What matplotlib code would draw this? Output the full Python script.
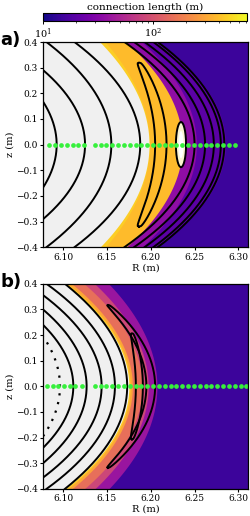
import numpy as np
import matplotlib
matplotlib.use("Agg")
import matplotlib.pyplot as plt
from matplotlib.colors import LogNorm
from matplotlib.cm import ScalarMappable

plt.rcParams['font.family'] = ['DejaVu Serif']
plt.rcParams['mathtext.fontset'] = 'dejavuserif'
plt.rcParams['axes.unicode_minus'] = True

# ---------------- data ----------------
XLIM = (6.077, 6.311)
YLIM = (-0.4, 0.4)
x_ticks = [6.10, 6.15, 6.20, 6.25, 6.30]
y_ticks = [-0.4, -0.3, -0.2, -0.1, 0.0, 0.1, 0.2, 0.3, 0.4]
L_min, L_max = 10, 716
core_color = '#f0f0f0'

# panel a: region boundaries (R at z=0, R at z=+-0.4) and connection length outside each
a_bnd_R0 = [6.198, 6.1985, 6.236, 6.252, 6.286]
a_bnd_Rt = [6.142, 6.148, 6.172, 6.190, 6.209]
a_bnd_L = [None, 470, 380, 36, 20]
a_bg_L = 14.5
# panel a: flux surfaces (R at z=0, R at z=+-0.4)
a_surf_R0 = [6.0926, 6.125, 6.155, 6.188, 6.250, 6.262, 6.272, 6.280, 6.284]
a_surf_Rt = [6.0002, 6.0319, 6.081, 6.113, 6.170, 6.181, 6.193, 6.203, 6.208]
# panel a: crescent island (tip R, tip z, inner R at z=0, outer R at z=0)
a_cres = [(6.1866, 0.320, 6.205, 6.218)]
# panel a: small island (centre R, half width, half height)
a_isl = (6.2345, 0.0058, 0.088)
# panel a: green launch points along z=0
a_dots = [6.084, 6.091, 6.097, 6.104, 6.111, 6.117, 6.124,
          6.136, 6.143, 6.149, 6.156, 6.163, 6.169, 6.176, 6.183, 6.189,
          6.196, 6.203, 6.209, 6.216, 6.223, 6.229, 6.236, 6.243, 6.249,
          6.256, 6.263, 6.269, 6.276, 6.283, 6.289, 6.296]

# panel b
b_bnd_R0 = [6.175, 6.1765, 6.179, 6.190, 6.197, 6.207]
b_bnd_Rt = [6.102, 6.105, 6.110, 6.124, 6.136, 6.152]
b_bnd_L = [None, 470, 300, 150, 85, 40]
b_bg_L = 14.5
b_surf_R0 = [6.1116, 6.1268, 6.1439, 6.1591, 6.1731]
b_surf_Rt = [6.0116, 6.0362, 6.0586, 6.081, 6.102]
b_dot_R0, b_dot_Rt = 6.0964, 6.012
b_cres = [(6.151, 0.318, 6.195, 6.205), (6.1785, 0.207, 6.183, 6.191)]
b_dots = [6.081, 6.088, 6.094, 6.101, 6.108, 6.114, 6.121,
          6.136, 6.143, 6.149, 6.156, 6.163, 6.169, 6.176, 6.183, 6.189,
          6.196, 6.203, 6.209, 6.216, 6.223, 6.229, 6.236, 6.243, 6.249,
          6.256, 6.263, 6.269, 6.276, 6.283, 6.289, 6.296, 6.303, 6.309]

# ---------------- helpers ----------------
norm = LogNorm(L_min, L_max)
cmap = plt.get_cmap('plasma')
z = np.linspace(-0.4, 0.4, 401)


def arc(R0, Rt, zz, zref=0.4):
    dR = R0 - Rt
    d = (dR ** 2 + zref ** 2) / (2 * dR)
    return R0 - d + np.sqrt(np.clip(d ** 2 - zz ** 2, 0, None))


def crescent(ax, Rtip, zt, Rin, Rout, **kw):
    zz = np.linspace(-zt, zt, 301)
    Rm = 0.5 * (Rin + Rout)
    c = arc(Rm, Rtip, zz, zref=zt)
    w = 0.5 * (Rout - Rin) * np.clip(1 - (zz / zt) ** 2, 0, None) ** 0.3
    xs = np.concatenate([c - w, (c + w)[::-1], [c[0] - w[0]]])
    ys = np.concatenate([zz, zz[::-1], [zz[0]]])
    ax.plot(xs, ys, **kw)


def panel(ax, bR0, bRt, bL, bgL, sR0, sRt):
    ax.set_facecolor(cmap(norm(bgL)))
    for i in range(len(bR0) - 1, -1, -1):
        col = core_color if bL[i] is None else cmap(norm(bL[i]))
        ax.fill_betweenx(z, 6.0, arc(bR0[i], bRt[i], z), color=col, lw=0)
    for r0, rt in zip(sR0, sRt):
        ax.plot(arc(r0, rt, z), z, color='k', lw=1.4)


def style(ax):
    ax.set_xlim(*XLIM)
    ax.set_ylim(*YLIM)
    ax.set_xticks(x_ticks)
    ax.set_xticklabels([f'{v:.2f}' for v in x_ticks])
    ax.set_yticks(y_ticks)
    ax.set_yticklabels([f'{v:.1f}'.replace('-', '\u2212') for v in y_ticks])
    ax.tick_params(labelsize=6.5, length=2.5, width=0.8, pad=1.5)
    ax.set_xlabel('R (m)', fontsize=7, labelpad=1)
    ax.set_ylabel('z (m)', fontsize=7, labelpad=1)
    for s in ax.spines.values():
        s.set_linewidth(0.9)


fig = plt.figure(figsize=(2.5, 5.16), dpi=100)
axa = fig.add_axes([0.172, 0.521, 0.820, 0.3975])
axb = fig.add_axes([0.172, 0.0525, 0.820, 0.3975])
cax = fig.add_axes([0.172, 0.960, 0.816, 0.0155])

# panel a
panel(axa, a_bnd_R0, a_bnd_Rt, a_bnd_L, a_bg_L, a_surf_R0, a_surf_Rt)
for (rt, zt, ri, ro) in a_cres:
    crescent(axa, rt, zt, ri, ro, color='k', lw=1.4)
t = np.linspace(0, 2 * np.pi, 200)
axa.fill(a_isl[0] + a_isl[1] * np.cos(t), a_isl[2] * np.sin(t), color='#fbf3d0', lw=0)
axa.fill(a_isl[0] + 0.5 * a_isl[1] * np.cos(t), 0.6 * a_isl[2] * np.sin(t), color='white', lw=0)
axa.plot(a_isl[0] + a_isl[1] * np.cos(t), a_isl[2] * np.sin(t), color='k', lw=1.4)
axa.plot(a_dots, np.zeros(len(a_dots)), 'o', color='#36f03c', ms=3.4, mec='none', clip_on=True)
style(axa)

# panel b
panel(axb, b_bnd_R0, b_bnd_Rt, b_bnd_L, b_bg_L, b_surf_R0, b_surf_Rt)
axb.plot(arc(b_dot_R0, b_dot_Rt, z), z, color='k', lw=1.6, ls=(0, (1, 3)))
for (rt, zt, ri, ro) in b_cres:
    crescent(axb, rt, zt, ri, ro, color='k', lw=1.4)
axb.plot(b_dots, np.zeros(len(b_dots)), 'o', color='#36f03c', ms=3.4, mec='none', clip_on=True)
style(axb)

# colorbar
sm = ScalarMappable(norm=norm, cmap=cmap)
cb = fig.colorbar(sm, cax=cax, orientation='horizontal')
cax.xaxis.set_label_position('top')
cb.set_label('connection length (m)', fontsize=7.5, labelpad=2)
cax.tick_params(labelsize=7, length=2.5, width=0.7, pad=1.5)
cax.tick_params(which='minor', length=1.5, width=0.5)
cb.outline.set_linewidth(0.8)

fig.text(0.0, 0.922, 'a)', fontsize=13, fontweight='bold', family='DejaVu Sans', va='center')
fig.text(0.0, 0.454, 'b)', fontsize=13, fontweight='bold', family='DejaVu Sans', va='center')

fig.savefig('out.png', dpi=100)
